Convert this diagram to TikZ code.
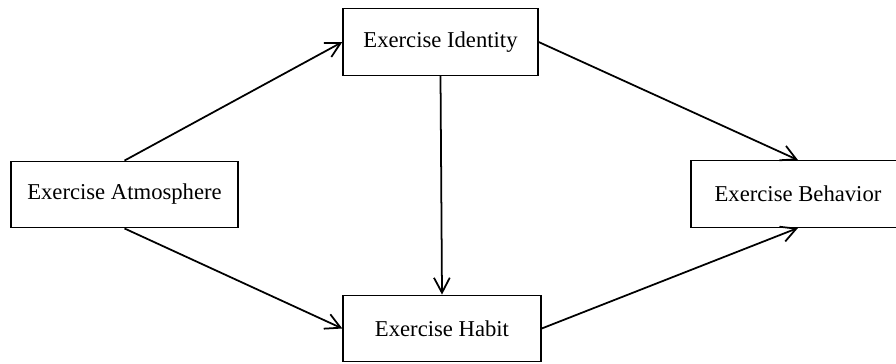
\documentclass[tikz,border=0pt]{standalone}
\usepackage{fontspec}
\setmainfont{Liberation Serif}
\usetikzlibrary{arrows.meta}

\begin{document}
\begin{tikzpicture}[x=0.02cm, y=-0.02cm,
    box/.style={draw, line width=0.8pt, rectangle, inner sep=0, minimum height=1.33cm, font=\fontsize{12.9}{15}\selectfont},
    link/.style={line width=1pt, -{Straight Barb[length=8.5pt, width=9pt, line width=1pt]}}]
            \useasboundingbox (0,0) rectangle (896,363);
            \node[box, minimum width=4.54cm] (atm) at (124.5,194.5) {Exercise Atmosphere};
            \node[box, minimum width=3.9cm] (ident) at (440.5,42) {Exercise Identity};
            \node[box, minimum width=3.96cm] (habit) at (442,328.5) {Exercise Habit};
            \node[box, minimum width=4.28cm] (behav) at (798,194) {Exercise Behavior};
            \draw[link] (atm.north) -- (ident.west);
            \draw[link] (atm.south) -- (habit.west);
            \draw[link] (ident.south) -- (habit.north);
            \draw[link] (ident.east) -- (behav.north);
            \draw[link] (habit.east) -- (behav.south);
        \end{tikzpicture}
\end{document}
